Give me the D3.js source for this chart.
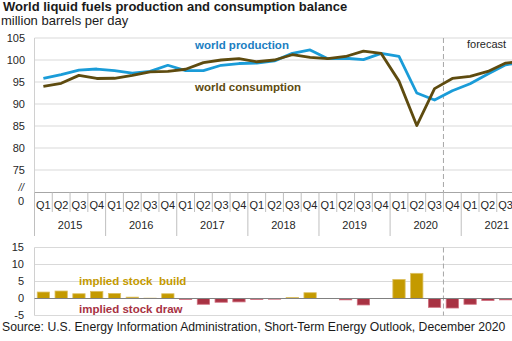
<!DOCTYPE html>
<html><head><meta charset="utf-8">
<script src="https://cdn.jsdelivr.net/npm/d3@7"></script>
<style>
html,body{margin:0;padding:0;background:#fff;overflow:hidden}
svg{display:block;font-family:"Liberation Sans",Arial,sans-serif}
</style></head>
<body>
<svg id="c" width="512" height="341"></svg>
<script>
// ---- data ----
const years = ["2015","2016","2017","2018","2019","2020","2021"];
const quarterNames = ["Q1","Q2","Q3","Q4"];
const production = [95.8, 96.7, 97.7, 97.95, 97.6, 97.0, 97.4, 98.8,
                    97.6, 97.6, 98.8, 99.2, 99.3, 99.8, 101.5, 102.3,
                    100.3, 100.4, 100.1, 101.5, 100.8, 92.5, 90.9, 93.0,
                    94.6, 96.8, 98.9, 99.6];
const consumption = [94.0, 94.7, 96.5, 95.8, 95.85, 96.5, 97.3, 97.4,
                     97.9, 99.4, 100.0, 100.3, 99.6, 100.0, 101.2, 100.6,
                     100.3, 100.8, 102.0, 101.5, 95.2, 85.1, 93.5, 95.8,
                     96.3, 97.4, 99.3, 99.8];
const stockChange = [1.9, 2.2, 1.4, 2.1, 1.5, 0.4, 0.1, 1.4,
                     -0.3, -1.7, -1.1, -1.0, -0.3, -0.2, 0.3, 1.7,
                     0.0, -0.4, -1.9, 0.0, 5.6, 7.4, -2.6, -2.8,
                     -1.7, -0.6, -0.4, -0.2];
const topTicks = [75, 80, 85, 90, 95, 100, 105];
const bottomTicks = [-5, 0, 5, 10, 15];
const forecastStart = 23; // index of 2020 Q4

// ---- layout ----
const svg = d3.select("#c");
const W = 512;
const keys = [];
years.forEach(y => quarterNames.forEach(q => keys.push(y + " " + q)));
const x = d3.scaleBand().domain(keys).range([34.5, 34.5 + 17.78 * keys.length]).paddingInner(0);
const xc = i => x(keys[i]) + x.bandwidth() / 2;
const yTop = d3.scaleLinear().domain([75, 105]).range([170, 38]);
const topAxisY = 192.5;
const yBot = d3.scaleLinear().domain([-5, 15]).range([315.5, 247.5]);

const grid = "#d9d9d9";
const txt = "#262626";

// title
svg.append("text").attr("x", 3).attr("y", 11).attr("font-size", 13).attr("font-weight", "bold")
  .attr("fill", "#1a1a1a").text("World liquid fuels production and consumption balance");
svg.append("text").attr("x", 1).attr("y", 24.5).attr("font-size", 13).attr("fill", "#1a1a1a")
  .text("million barrels per day");

// ---- top chart ----
const gT = svg.append("g");
gT.selectAll("line.g").data(topTicks).join("line")
  .attr("x1", 34.5).attr("x2", W).attr("y1", d => yTop(d)).attr("y2", d => yTop(d))
  .attr("stroke", grid).attr("stroke-width", 1);
gT.append("line").attr("x1", 34.5).attr("x2", 34.5).attr("y1", yTop(105)).attr("y2", topAxisY)
  .attr("stroke", "#d0d0d0");
gT.append("line").attr("x1", 34.5).attr("x2", W).attr("y1", topAxisY).attr("y2", topAxisY)
  .attr("stroke", "#a6a6a6");
gT.selectAll("text.yl").data(topTicks).join("text")
  .attr("x", 25).attr("y", d => yTop(d)).attr("dy", "0.36em").attr("text-anchor", "end")
  .attr("font-size", 11).attr("fill", txt).text(d => d);
gT.append("text").attr("x", 24).attr("y", 187).attr("dy", "0.36em").attr("text-anchor", "end")
  .attr("font-size", 10).attr("font-style", "italic").attr("fill", txt).text("//");
gT.append("text").attr("x", 24).attr("y", 201.5).attr("dy", "0.36em").attr("text-anchor", "end")
  .attr("font-size", 11).attr("fill", txt).text("0");

// forecast dashed line
gT.append("line").attr("x1", x(keys[forecastStart])).attr("x2", x(keys[forecastStart]))
  .attr("y1", yTop(105)).attr("y2", topAxisY).attr("stroke", "#a6a6a6").attr("stroke-dasharray", "5,3");
gT.append("text").attr("x", 467).attr("y", 48).attr("font-size", 11).attr("fill", txt).text("forecast");

// x axis dividers & labels
keys.forEach((k, i) => {
  const xl = x(k);
  const isYear = i % 4 === 0;
  gT.append("line").attr("x1", xl).attr("x2", xl).attr("y1", topAxisY).attr("y2", isYear ? 236 : 212)
    .attr("stroke", "#bfbfbf");
  gT.append("text").attr("x", xc(i)).attr("y", 205).attr("dy", "0.36em").attr("text-anchor", "middle")
    .attr("font-size", 11).attr("fill", txt).text(quarterNames[i % 4]);
});
years.forEach((yr, j) => {
  const x0 = x(keys[j * 4]), x1 = x(keys[j * 4 + 3]) + x.bandwidth();
  gT.append("text").attr("x", (x0 + x1) / 2).attr("y", 225).attr("dy", "0.36em").attr("text-anchor", "middle")
    .attr("font-size", 11).attr("fill", txt).text(yr);
});

// lines
const line = d3.line().x((d, i) => xc(i)).y(d => yTop(d));
gT.append("path").datum(production).attr("d", line).attr("fill", "none")
  .attr("stroke", "#1a9cd8").attr("stroke-width", 2.8).attr("stroke-linejoin", "round");
gT.append("path").datum(consumption).attr("d", line).attr("fill", "none")
  .attr("stroke", "#5e4b0f").attr("stroke-width", 2.8).attr("stroke-linejoin", "round");
gT.append("text").attr("x", 195).attr("y", 49).attr("font-size", 11.5).attr("font-weight", "bold")
  .attr("fill", "#1b7ec2").text("world production");
gT.append("text").attr("x", 195).attr("y", 91).attr("font-size", 11.5).attr("font-weight", "bold")
  .attr("fill", "#5e4b0f").text("world consumption");

// ---- bottom chart ----
const gB = svg.append("g");
gB.selectAll("line.g").data(bottomTicks.filter(d => d !== 0)).join("line")
  .attr("x1", 34.5).attr("x2", W).attr("y1", d => yBot(d)).attr("y2", d => yBot(d))
  .attr("stroke", grid);
gB.append("line").attr("x1", 34.5).attr("x2", 34.5).attr("y1", yBot(15)).attr("y2", yBot(-5))
  .attr("stroke", "#d0d0d0");
gB.selectAll("text.yl").data(bottomTicks).join("text")
  .attr("x", 24).attr("y", d => yBot(d)).attr("dy", "0.36em").attr("text-anchor", "end")
  .attr("font-size", 11).attr("fill", txt).text(d => d);
gB.append("line").attr("x1", x(keys[forecastStart])).attr("x2", x(keys[forecastStart]))
  .attr("y1", yBot(15)).attr("y2", yBot(-5)).attr("stroke", "#a6a6a6").attr("stroke-dasharray", "5,3");

const bw = 12.3;
gB.selectAll("rect.b").data(stockChange).join("rect")
  .attr("x", (d, i) => xc(i) - bw / 2).attr("width", bw)
  .attr("y", d => d >= 0 ? yBot(d) : yBot(0)).attr("height", d => Math.abs(yBot(d) - yBot(0)))
  .attr("fill", d => d >= 0 ? "#c49a00" : "#a83243")
  .attr("stroke", d => d >= 0 ? "#dcc060" : "#d07080").attr("stroke-width", 0.8);
gB.append("line").attr("x1", 34.5).attr("x2", W).attr("y1", yBot(0)).attr("y2", yBot(0))
  .attr("stroke", "#808080").attr("stroke-width", 1.2);
gB.append("text").attr("x", 79).attr("y", 285).attr("font-size", 11.5).attr("font-weight", "bold")
  .attr("fill", "#c49a00").attr("xml:space", "preserve").text("implied stock  build");
gB.append("text").attr("x", 79).attr("y", 313).attr("font-size", 11.5).attr("font-weight", "bold")
  .attr("fill", "#a83243").text("implied stock draw");

// source
svg.append("text").attr("x", 2).attr("y", 331).attr("font-size", 12.2).attr("fill", "#1a1a1a")
  .text("Source: U.S. Energy Information Administration, Short-Term Energy Outlook, December 2020");
</script>
</body></html>
